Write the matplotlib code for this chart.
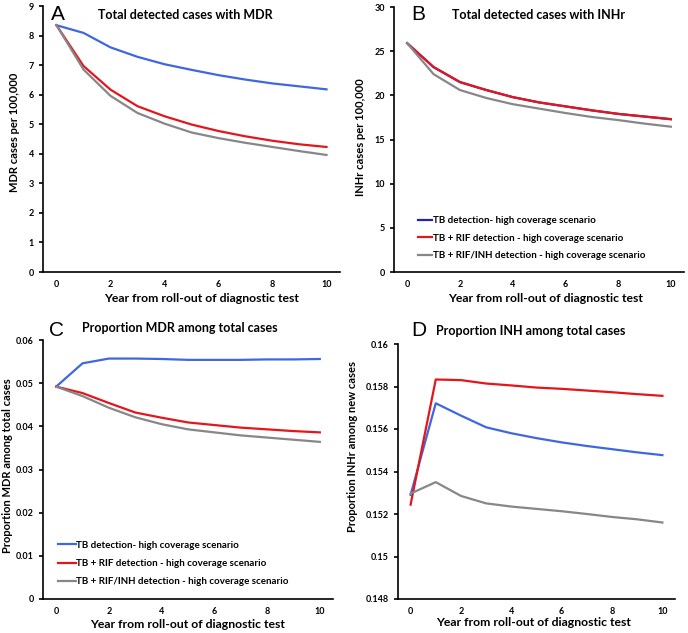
"""Four-panel figure: MDR / INHr detected cases and proportions after test roll-out."""

import matplotlib
matplotlib.use("Agg")
import matplotlib.pyplot as plt

plt.rcParams["font.family"] = ["Lato", "DejaVu Sans"]

years = list(range(11))

# A - total detected cases with MDR (per 100,000)
mdr_tb = [8.35, 8.09, 7.60, 7.28, 7.03, 6.84, 6.66, 6.51, 6.38, 6.28, 6.18]
mdr_rif = [8.35, 6.97, 6.17, 5.61, 5.27, 4.99, 4.77, 4.59, 4.44, 4.32, 4.23]
mdr_inh = [8.35, 6.85, 5.96, 5.38, 5.02, 4.72, 4.53, 4.37, 4.23, 4.09, 3.96]

# B - total detected cases with INHr (per 100,000)
inh_tb = [25.9, 23.2, 21.5, 20.6, 19.8, 19.2, 18.75, 18.3, 17.9, 17.6, 17.3]
inh_rif = [25.9, 23.2, 21.5, 20.6, 19.8, 19.2, 18.75, 18.3, 17.9, 17.6, 17.3]
inh_inh = [25.9, 22.4, 20.6, 19.7, 19.0, 18.5, 18.0, 17.55, 17.2, 16.8, 16.45]

# C - proportion MDR among total cases
pmdr_tb = [0.0492, 0.0546, 0.0557, 0.0557, 0.0556, 0.0554, 0.0554, 0.0554, 0.0555, 0.0555, 0.0556]
pmdr_rif = [0.0492, 0.0477, 0.0454, 0.0432, 0.0420, 0.0409, 0.0403, 0.0397, 0.0393, 0.0389, 0.0386]
pmdr_inh = [0.0492, 0.0470, 0.0443, 0.0421, 0.0405, 0.0393, 0.0386, 0.0379, 0.0374, 0.0369, 0.0364]

# D - proportion INHr among new cases
pinh_tb = [0.1529, 0.15721, 0.15663, 0.15608, 0.15580, 0.15557, 0.15537, 0.15520, 0.15505, 0.15490, 0.15477]
pinh_rif = [0.15244, 0.15833, 0.15830, 0.15814, 0.15805, 0.15795, 0.15789, 0.15781, 0.15773, 0.15764, 0.15756]
pinh_inh = [0.15296, 0.15350, 0.15285, 0.15250, 0.15235, 0.15224, 0.15213, 0.15200, 0.15186, 0.15175, 0.15160]

labels = [
    "TB detection- high coverage scenario",
    "TB + RIF detection - high coverage scenario",
    "TB + RIF/INH detection - high coverage scenario",
]
BLUE = "#3f67e0"
NAVY = "#2323b0"
RED = "#e4161c"
GRAY = "#878787"

W, H = 688, 633


def fx(px):
    return px / W


def fy(py):
    return 1 - py / H


def style(ax, ylim, yticks, yfmt):
    ax.set_xlim(-0.5, 10.5)
    ax.set_ylim(*ylim)
    ax.set_xticks([0, 2, 4, 6, 8, 10])
    ax.set_yticks(yticks)
    ax.set_yticklabels([yfmt(v) for v in yticks])
    ax.spines["top"].set_visible(False)
    ax.spines["right"].set_visible(False)
    for s in ("left", "bottom"):
        ax.spines[s].set_linewidth(1.2)
    ax.tick_params(axis="x", length=0, pad=6, labelsize=6.5)
    ax.tick_params(axis="y", length=3, width=1.2, labelsize=6.5)
    for t in ax.get_xticklabels() + ax.get_yticklabels():
        t.set_fontweight("bold")


fig = plt.figure(figsize=(6.88, 6.33), dpi=100)

axA = fig.add_axes([fx(43), fy(272), fx(340 - 43), (272 - 6) / H])
axB = fig.add_axes([fx(394), fy(272), fx(684 - 394), (272 - 7) / H])
axC = fig.add_axes([fx(43), fy(599), fx(333 - 43), (599 - 340) / H])
axD = fig.add_axes([fx(398), fy(599), fx(675 - 398), (599 - 344) / H])

lw = 1.6
leg_font = {"size": 7, "weight": "bold"}

axA.plot(years, mdr_tb, color=BLUE, lw=lw)
axA.plot(years, mdr_rif, color=RED, lw=lw)
axA.plot(years, mdr_inh, color=GRAY, lw=lw)
style(axA, (0, 9), list(range(10)), lambda v: f"{v:g}")

axB.plot(years, inh_tb, color=NAVY, lw=lw, label=labels[0])
axB.plot(years, inh_rif, color=RED, lw=lw, label=labels[1])
axB.plot(years, inh_inh, color=GRAY, lw=lw, label=labels[2])
style(axB, (0, 30), list(range(0, 31, 5)), lambda v: f"{v:g}")
axB.legend(loc="lower left", bbox_to_anchor=(0.065, 0.027), frameon=False,
           handlelength=1.5, handletextpad=0.05, labelspacing=0.85,
           borderpad=0, prop=leg_font)

axC.plot(years, pmdr_tb, color=BLUE, lw=lw, label=labels[0])
axC.plot(years, pmdr_rif, color=RED, lw=lw, label=labels[1])
axC.plot(years, pmdr_inh, color=GRAY, lw=lw, label=labels[2])
style(axC, (0, 0.06), [0, 0.01, 0.02, 0.03, 0.04, 0.05, 0.06], lambda v: f"{v:g}")
axC.legend(loc="lower left", bbox_to_anchor=(0.035, 0.03), frameon=False,
           handlelength=1.8, handletextpad=0.1, labelspacing=0.95,
           borderpad=0, prop=leg_font)

axD.plot(years, pinh_tb, color=BLUE, lw=lw)
axD.plot(years, pinh_rif, color=RED, lw=lw)
axD.plot(years, pinh_inh, color=GRAY, lw=lw)
style(axD, (0.148, 0.16), [0.148, 0.15, 0.152, 0.154, 0.156, 0.158, 0.16],
      lambda v: f"{round(v, 3):g}")

# titles and panel letters
titles = [
    ("A", 51, 14, "Total detected cases with MDR", 185, 15),
    ("B", 411, 14, "Total detected cases with INHr", 539, 15),
    ("C", 49, 331, "Proportion MDR among total cases", 180, 328),
    ("D", 411, 331, "Proportion INH among total cases", 531, 331),
]
for letter, lx, ly, title, tx, ty in titles:
    fig.text(fx(lx), fy(ly), letter, fontsize=15, family="Liberation Sans",
             ha="left", va="center")
    fig.text(fx(tx), fy(ty), title, fontsize=9, fontweight="bold",
             ha="center", va="center")

xl = "Year from roll-out of diagnostic test"
for x, y in [(202, 299), (546, 299), (188, 624), (534, 623)]:
    fig.text(fx(x), fy(y), xl, fontsize=8.8, fontweight="bold", ha="center", va="center")

ylabs = [
    ("MDR cases per 100,000", 14, 132),
    ("INHr cases per 100,000", 360, 137),
    ("Proportion MDR among total cases", 8, 466),
    ("Proportion INHr among new cases", 352, 446),
]
for txt, x, y in ylabs:
    fig.text(fx(x), fy(y), txt, fontsize=8, fontweight="bold", rotation=90,
             ha="center", va="center")

fig.savefig("out.png", dpi=100)
